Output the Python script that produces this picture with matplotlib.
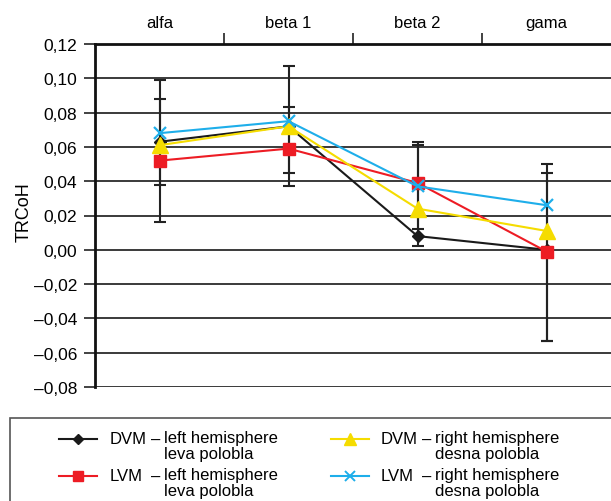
import matplotlib
matplotlib.use("Agg")
import matplotlib.pyplot as plt
from matplotlib.lines import Line2D
from matplotlib.patches import Rectangle
from matplotlib.ticker import FuncFormatter, FixedLocator
import numpy as np

plt.rcParams['font.family'] = ['Liberation Sans', 'DejaVu Sans']

categories = ["alfa", "beta 1", "beta 2", "gama"]

dvm_left = [0.063, 0.072, 0.008, 0.000]
lvm_left = [0.052, 0.059, 0.039, -0.001]
dvm_right = [0.061, 0.072, 0.024, 0.011]
lvm_right = [0.068, 0.075, 0.037, 0.026]

# error bar ranges (low, high)
err_a_low = [0.016, 0.037, 0.002, -0.053]
err_a_high = [0.099, 0.107, 0.063, 0.050]
err_b_low = [0.038, 0.045, 0.012, -0.053]
err_b_high = [0.088, 0.083, 0.061, 0.045]

y_ticks = [-0.08, -0.06, -0.04, -0.02, 0.00, 0.02, 0.04, 0.06, 0.08, 0.10, 0.12]

legend_names = ["DVM", "LVM", "DVM", "LVM"]
legend_desc = ["left hemisphere\nleva polobla", "left hemisphere\nleva polobla",
               "right hemisphere\ndesna polobla", "right hemisphere\ndesna polobla"]

W, H = 611, 502
fig = plt.figure(figsize=(W / 100, H / 100), dpi=100)

def fx(px):
    return px / W

def fy(py):
    return 1 - py / H

ax = fig.add_axes([fx(95), fy(388), 1 - fx(95), (388 - 45) / H])
ax.set_xlim(0, 4)
ax.set_ylim(-0.08, 0.12)

x = np.arange(len(categories)) + 0.5

ecol = "#222222"
for lo, hi in [(err_a_low, err_a_high), (err_b_low, err_b_high)]:
    lo = np.array(lo); hi = np.array(hi)
    mid = (lo + hi) / 2
    ax.errorbar(x, mid, yerr=(hi - lo) / 2, fmt='none', ecolor=ecol,
                elinewidth=1.5, capsize=4.5, capthick=1.5, zorder=3)

styles = [
    (dvm_left, "#1a1a1a", "D", 6.5, "#1a1a1a"),
    (lvm_left, "#ed1c24", "s", 9, "#ed1c24"),
    (dvm_right, "#f5dc00", "^", 11, "#f5dc00"),
    (lvm_right, "#1eaeea", "x", 9, "#1eaeea"),
]
for vals, col, mk, ms, mec in styles:
    ax.plot(x, vals, color=col, lw=1.5, marker=mk, ms=ms, mec=mec, mfc=col,
            mew=1.6 if mk == "x" else 1.0, zorder=4)

# grid
ax.set_yticks(y_ticks)
ax.yaxis.set_major_formatter(FuncFormatter(
    lambda v, p: f"{v:.2f}".replace(".", ",").replace("-", "\u2013")))
ax.grid(axis='y', color="#3a3a3a", lw=1.4, zorder=1)
ax.grid(axis='x', visible=False)
ax.tick_params(axis='y', direction='out', length=8, width=1.2, color="#222222",
               labelsize=12.5, pad=5)

for s in ["right", "bottom"]:
    ax.spines[s].set_visible(False)
for s in ["left", "top"]:
    ax.spines[s].set_linewidth(2)
    ax.spines[s].set_color("#111111")

ax.xaxis.set_ticks_position('top')
ax.xaxis.set_major_locator(FixedLocator([1, 2, 3]))
ax.xaxis.set_minor_locator(FixedLocator(list(x)))
ax.xaxis.set_major_formatter(FuncFormatter(lambda v, p: ""))
ax.set_xticks(x, categories, minor=True)
ax.tick_params(axis='x', which='major', direction='out', length=8, width=1.2,
               color="#222222")
ax.tick_params(axis='x', which='minor', length=0, labelsize=12, pad=10)

fig.text(fx(24), fy(212), "TRCoH", rotation=90, ha='center', va='center', fontsize=13)

# legend
fig.add_artist(Rectangle((fx(10), fy(520)), fx(620) - fx(10), fy(419) - fy(520),
                         transform=fig.transFigure, fill=False,
                         edgecolor="#555555", lw=1.2))
handle_x = [(59, 97), (59, 97), (331, 369), (331, 369)]
name_x = [110, 110, 381, 381]
row_y = [440, 477, 440, 477]
for i, (vals, col, mk, ms, mec) in enumerate(styles):
    x0, x1 = handle_x[i]
    yy = fy(row_y[i])
    ln = Line2D([fx(x0), fx((x0 + x1) / 2), fx(x1)], [yy, yy, yy],
                transform=fig.transFigure, color=col, lw=1.5, marker=mk,
                ms=ms * 0.8, mfc=col, mec=mec, markevery=[1],
                mew=1.4 if mk == "x" else 1.0)
    fig.add_artist(ln)
    nx = name_x[i]
    fig.text(fx(nx), yy, legend_names[i], ha='left', va='center', fontsize=12)
    fig.text(fx(nx + 41), yy, "\u2013", ha='left', va='center', fontsize=12)
    fig.text(fx(nx + 54), fy(row_y[i] - 9), legend_desc[i], ha='left', va='top',
             fontsize=12, linespacing=1.05)

fig.savefig("out.png", dpi=100)
